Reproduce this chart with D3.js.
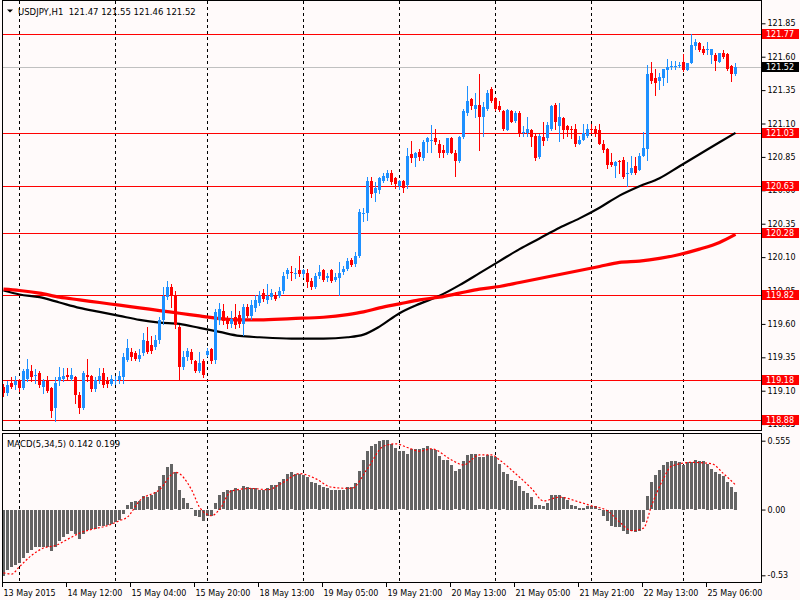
<!DOCTYPE html>
<html><head><meta charset="utf-8">
<script src="https://cdn.jsdelivr.net/npm/d3@7"></script>
<style>
body{margin:0;background:#fffafa}
svg{display:block}
text{font-family:"DejaVu Sans",Verdana,sans-serif}
</style>
</head><body><svg id="c" width="800" height="600"></svg>
<script>
// ---------- DATA ----------
const symbolTitle = "USDJPY,H1  121.47 121.55 121.46 121.52";
const macdTitle = "MACD(5,34,5) 0.142 0.199";

const openP = [119.13,119.08,119.16,119.14,119.18,119.12,119.19,119.25,119.21,119.23,119.13,119.18,119.12,118.97,119.17,119.19,119.22,119.19,119.20,119.07,
118.97,119.22,119.21,119.11,119.18,119.23,119.17,119.15,119.17,119.18,119.20,119.33,119.39,119.38,119.34,119.38,119.47,119.44,119.43,119.48,
119.63,119.80,119.88,119.82,119.58,119.28,119.35,119.39,119.32,119.25,119.32,119.37,119.41,119.33,119.63,119.70,119.63,119.60,119.65,119.67,
119.60,119.73,119.66,119.72,119.76,119.83,119.78,119.80,119.82,119.81,119.85,119.97,119.99,119.97,120.00,119.97,119.98,119.92,119.88,119.96,
120.00,119.94,120.00,119.93,119.94,119.99,120.01,120.08,120.05,120.11,120.42,120.43,120.67,120.58,120.60,120.67,120.69,120.73,120.69,120.63,
120.67,120.64,120.87,120.84,120.89,120.84,120.96,120.97,120.99,120.95,120.90,120.88,120.99,120.88,120.82,121.00,121.18,121.28,121.21,121.24,
121.15,121.21,121.36,121.29,121.23,121.19,121.05,121.19,121.12,121.18,121.03,121.03,121.05,121.01,120.85,121.00,120.99,121.06,121.24,121.08,
121.14,121.08,121.06,121.06,120.95,120.98,121.01,121.06,121.06,121.05,120.95,120.91,120.81,120.78,120.82,120.83,120.72,120.73,120.78,120.75,
120.86,120.91,121.48,121.44,121.42,121.44,121.50,121.52,121.53,121.53,121.56,121.50,121.55,121.68,121.70,121.66,121.65,121.61,121.61,121.56,
121.63,121.62,121.53,121.47];
const highP = [119.15,119.17,119.20,119.21,119.19,119.26,119.34,119.29,119.26,119.25,119.19,119.21,119.13,119.20,119.28,119.27,119.27,119.27,119.21,119.09,
119.25,119.34,119.22,119.20,119.27,119.27,119.20,119.22,119.21,119.25,119.38,119.49,119.42,119.40,119.41,119.53,119.58,119.51,119.52,119.65,
119.88,119.92,119.90,119.85,119.59,119.40,119.42,119.41,119.33,119.39,119.34,119.42,119.42,119.71,119.76,119.75,119.66,119.70,119.75,119.70,
119.75,119.75,119.78,119.82,119.85,119.86,119.90,119.86,119.84,119.88,119.99,120.02,120.03,120.02,120.11,120.01,120.01,119.94,119.98,120.04,
120.01,119.98,120.01,119.98,120.06,120.03,120.09,120.09,120.14,120.46,120.47,120.70,120.70,120.66,120.70,120.73,120.75,120.75,120.70,120.68,
120.68,120.92,120.97,120.89,120.91,120.98,121.00,121.09,121.06,120.98,120.94,120.99,121.00,120.90,121.01,121.21,121.38,121.29,121.33,121.47,
121.26,121.35,121.37,121.30,121.27,121.20,121.21,121.20,121.19,121.19,121.08,121.15,121.06,121.02,121.02,121.11,121.11,121.24,121.25,121.25,
121.15,121.09,121.08,121.10,121.01,121.10,121.10,121.10,121.08,121.10,120.98,120.92,120.88,120.82,120.83,120.85,120.81,120.86,120.85,120.88,
121.04,121.54,121.56,121.51,121.48,121.51,121.58,121.57,121.57,121.56,121.62,121.55,121.77,121.73,121.71,121.68,121.71,121.66,121.63,121.63,
121.65,121.63,121.54,121.55];
const lowP = [119.06,119.07,119.12,119.11,119.10,119.11,119.17,119.17,119.16,119.13,119.08,119.09,118.90,118.87,119.14,119.17,119.18,119.18,119.01,118.93,
118.96,119.17,119.10,119.10,119.16,119.13,119.13,119.14,119.15,119.16,119.16,119.32,119.33,119.33,119.32,119.37,119.38,119.38,119.41,119.46,
119.60,119.79,119.73,119.57,119.18,119.26,119.33,119.31,119.24,119.24,119.20,119.36,119.31,119.31,119.60,119.60,119.57,119.58,119.57,119.58,
119.52,119.65,119.64,119.70,119.74,119.77,119.76,119.79,119.78,119.80,119.83,119.94,119.93,119.94,119.96,119.95,119.88,119.86,119.87,119.94,
119.92,119.92,119.91,119.92,119.82,119.97,120.00,120.03,120.03,120.10,120.37,120.38,120.55,120.52,120.58,120.66,120.68,120.65,120.62,120.61,
120.59,120.62,120.81,120.78,120.83,120.83,120.89,120.89,120.95,120.85,120.85,120.87,120.88,120.71,120.81,120.99,121.16,121.21,121.15,120.90,
121.01,121.20,121.26,121.20,121.19,121.05,121.05,121.11,121.11,121.01,121.01,121.01,120.93,120.83,120.84,120.94,120.98,121.05,121.06,120.97,
120.99,121.01,120.99,120.93,120.95,120.98,121.00,121.03,121.01,120.95,120.89,120.77,120.78,120.70,120.73,120.69,120.63,120.72,120.72,120.75,
120.86,120.83,121.40,121.31,121.36,121.39,121.41,121.51,121.51,121.52,121.49,121.50,121.55,121.66,121.64,121.62,121.62,121.55,121.50,121.56,
121.59,121.50,121.42,121.46];
const closeP = [119.08,119.14,119.13,119.17,119.12,119.25,119.26,119.20,119.22,119.14,119.17,119.10,118.95,119.16,119.20,119.21,119.20,119.22,119.07,118.97,
119.23,119.20,119.11,119.18,119.21,119.14,119.15,119.19,119.18,119.21,119.35,119.42,119.35,119.34,119.37,119.48,119.39,119.40,119.48,119.63,
119.81,119.88,119.82,119.59,119.28,119.35,119.40,119.33,119.25,119.31,119.22,119.40,119.32,119.69,119.71,119.62,119.60,119.64,119.59,119.60,
119.73,119.66,119.74,119.78,119.82,119.79,119.81,119.83,119.79,119.85,119.96,120.00,119.98,119.98,119.97,120.00,119.91,119.88,119.96,119.99,
119.93,119.96,119.92,119.95,119.98,120.01,120.07,120.04,120.11,120.44,120.43,120.67,120.57,120.62,120.69,120.71,120.73,120.66,120.65,120.67,
120.62,120.86,120.84,120.88,120.85,120.96,120.99,120.98,120.96,120.88,120.88,120.99,120.88,120.82,121.00,121.19,121.27,121.23,121.24,121.15,
121.22,121.33,121.27,121.21,121.20,121.06,121.20,121.11,121.18,121.03,121.04,121.06,121.00,120.84,121.01,120.97,121.09,121.23,121.11,121.15,
121.05,121.05,121.05,120.95,120.98,121.03,121.06,121.05,121.03,120.95,120.90,120.79,120.79,120.81,120.81,120.70,120.73,120.77,120.73,120.86,
120.92,121.47,121.42,121.40,121.45,121.51,121.52,121.53,121.53,121.54,121.50,121.55,121.69,121.71,121.65,121.63,121.66,121.66,121.57,121.63,
121.60,121.51,121.47,121.52];

// moving averages, read at sampled bars
const maBlackBars = [0,4,9,14,19,24,29,34,39,44,49,54,59,64,72,80,86,90,94,99,104,109,114,119,124,129,134,139,144,149,154,159,164,169,174,179,183];
const maBlackVals = [119.85,119.82,119.80,119.76,119.72,119.69,119.66,119.63,119.61,119.60,119.57,119.54,119.51,119.50,119.49,119.49,119.50,119.52,119.58,119.68,119.75,119.81,119.89,119.98,120.07,120.16,120.24,120.32,120.39,120.47,120.56,120.63,120.69,120.78,120.87,120.96,121.03];
const maRedBars = [0,4,9,14,19,24,29,34,39,44,49,54,59,64,72,80,86,90,94,99,104,109,114,119,124,129,134,139,144,149,154,159,164,169,174,179,183];
const maRedVals = [119.86,119.85,119.83,119.80,119.78,119.76,119.74,119.72,119.70,119.68,119.66,119.64,119.63,119.63,119.64,119.65,119.67,119.69,119.72,119.75,119.78,119.80,119.83,119.86,119.88,119.91,119.94,119.97,120.00,120.03,120.06,120.07,120.09,120.12,120.16,120.21,120.27];

const macdHist = [-0.53,-0.48,-0.46,-0.44,-0.43,-0.39,-0.35,-0.32,-0.30,-0.30,-0.30,-0.30,-0.33,-0.30,-0.25,-0.22,-0.19,-0.17,-0.19,-0.23,
-0.19,-0.16,-0.15,-0.15,-0.13,-0.13,-0.12,-0.11,-0.10,-0.08,-0.03,0.035,0.06,0.07,0.07,0.11,0.10,0.12,0.14,0.19,
0.28,0.34,0.37,0.30,0.16,0.09,0.05,0.01,-0.05,-0.06,-0.09,-0.05,-0.05,0.05,0.12,0.14,0.16,0.16,0.17,0.16,
0.19,0.18,0.17,0.17,0.16,0.16,0.17,0.20,0.20,0.22,0.25,0.29,0.30,0.29,0.29,0.28,0.26,0.22,0.21,0.20,
0.18,0.17,0.16,0.16,0.16,0.16,0.18,0.18,0.21,0.31,0.40,0.47,0.51,0.53,0.55,0.56,0.56,0.53,0.50,0.47,
0.47,0.45,0.49,0.49,0.49,0.50,0.51,0.49,0.48,0.43,0.40,0.40,0.36,0.31,0.33,0.39,0.44,0.45,0.45,0.42,
0.42,0.44,0.43,0.42,0.37,0.30,0.29,0.24,0.23,0.19,0.15,0.13,0.10,0.035,0.035,0.027,0.054,0.12,0.12,0.12,
0.10,0.075,0.035,0.027,0.016,0.016,0.027,0.027,0.027,0.008,-0.046,-0.09,-0.13,-0.14,-0.14,-0.17,-0.19,-0.17,-0.18,-0.17,
-0.10,0.11,0.22,0.28,0.32,0.36,0.38,0.39,0.39,0.38,0.36,0.38,0.38,0.40,0.39,0.39,0.37,0.33,0.30,0.29,
0.27,0.22,0.18,0.142];
const signalBars = [0,2,4,7,10,13,16,19,22,26,29,31,34,39,43,47,49,51,52,54,57,62,66,70,74,78,82,87,91,95,98,101,104,107,112,115,119,122,124,128,132,135,139,144,147,151,154,157,160,162,165,167,172,177,180,183];
const signalVals = [-0.51,-0.52,-0.46,-0.37,-0.31,-0.29,-0.24,-0.19,-0.16,-0.13,-0.09,-0.06,0.07,0.16,0.30,0.16,0.02,-0.04,-0.05,0.00,0.15,0.17,0.16,0.22,0.29,0.25,0.18,0.17,0.33,0.51,0.53,0.50,0.47,0.49,0.40,0.36,0.44,0.44,0.40,0.29,0.17,0.07,0.10,0.06,0.03,-0.01,-0.10,-0.17,-0.15,0.03,0.25,0.35,0.38,0.37,0.29,0.199];

const levelPrices = [121.77,121.03,120.63,120.28,119.82,119.18,118.88];
const currentPrice = 121.52;
const priceTicks = [121.85,121.60,121.35,121.10,120.85,120.60,120.35,120.10,119.85,119.60,119.35,119.10,118.85];
const macdTicks = [0.555,0.00,-0.53];
const macdTickLabels = ["0.555","0.00","-0.53"];
const dateBars = [0,16,32,48,64,80,96,112,128,144,160,176];
const dateLabels = ["13 May 2015","14 May 12:00","15 May 04:00","15 May 20:00","18 May 13:00","19 May 05:00","19 May 21:00","20 May 13:00","21 May 05:00","21 May 21:00","22 May 13:00","25 May 06:00"];
const separatorBars = [4,28,51,75,99,123,147,170];

// ---------- LAYOUT ----------
const svg = d3.select('#c');
const W = 800, H = 600;
const left = 2.5, right = 761.5;
const mainTop = 0.5, mainBottom = 430.5;
const macdTop = 433.5, macdBottom = 582.5;
const BULL = '#1e90ff', BEAR = '#ff0000';

const x = d3.scaleLinear().domain([0, openP.length - 1]).range([3.5, 3.5 + 4 * (openP.length - 1)]);
const y = d3.scaleLinear().domain([118.88, 121.77]).range([420.1, 34]);
const ym = d3.scaleLinear().domain([-0.53, 0.555]).range([575.3, 440.7]);

svg.append('rect').attr('width', W).attr('height', H).attr('fill', '#fffafa');

const defs = svg.append('defs');
defs.append('clipPath').attr('id', 'clipMain').append('rect')
  .attr('x', 3).attr('y', 1).attr('width', right - 3.5).attr('height', mainBottom - 1.5);
defs.append('clipPath').attr('id', 'clipMacd').append('rect')
  .attr('x', 3).attr('y', macdTop + 0.5).attr('width', right - 3.5).attr('height', macdBottom - macdTop - 1);

// separators (dashed day lines)
const sep = svg.append('g').attr('shape-rendering', 'crispEdges');
separatorBars.forEach(b => {
  const xx = Math.floor(x(b)) + 0.5;
  [[mainTop, mainBottom], [macdTop, macdBottom]].forEach(([a, bb]) => {
    sep.append('line').attr('x1', xx).attr('x2', xx).attr('y1', a).attr('y2', bb)
      .attr('stroke', '#000').attr('stroke-width', 1).attr('stroke-dasharray', '3,3');
  });
});

// main panel content
const gMain = svg.append('g').attr('clip-path', 'url(#clipMain)');

// current price line
gMain.append('line').attr('x1', left).attr('x2', right)
  .attr('y1', Math.round(y(currentPrice)) + 0.5).attr('y2', Math.round(y(currentPrice)) + 0.5)
  .attr('stroke', '#c0c0c0').attr('shape-rendering', 'crispEdges');

// horizontal level lines
gMain.selectAll('line.lvl').data(levelPrices).join('line').attr('class', 'lvl')
  .attr('x1', left).attr('x2', right)
  .attr('y1', d => Math.round(y(d)) + 0.5).attr('y2', d => Math.round(y(d)) + 0.5)
  .attr('stroke', '#ff0000').attr('shape-rendering', 'crispEdges');

// moving averages
const maLine = d3.line().x(d => x(d[0])).y(d => y(d[1])).curve(d3.curveMonotoneX);
gMain.append('path').datum(maBlackBars.map((b, k) => [b, maBlackVals[k]]))
  .attr('d', maLine).attr('fill', 'none').attr('stroke', '#000').attr('stroke-width', 2.2);
gMain.append('path').datum(maRedBars.map((b, k) => [b, maRedVals[k]]))
  .attr('d', maLine).attr('fill', 'none').attr('stroke', '#ff0000').attr('stroke-width', 3.2);

// candles
const candles = openP.map((o, i) => ({ i, o, h: highP[i], l: lowP[i], c: closeP[i] }));
const gc = gMain.append('g').attr('shape-rendering', 'crispEdges');
gc.selectAll('line.wick').data(candles).join('line').attr('class', 'wick')
  .attr('x1', d => Math.floor(x(d.i)) + 0.5).attr('x2', d => Math.floor(x(d.i)) + 0.5)
  .attr('y1', d => Math.round(y(d.h))).attr('y2', d => Math.round(y(d.l)) + 1)
  .attr('stroke', d => d.c >= d.o ? BULL : BEAR);
gc.selectAll('rect.body').data(candles).join('rect').attr('class', 'body')
  .attr('x', d => Math.floor(x(d.i)) - 1).attr('width', 3)
  .attr('y', d => Math.round(y(Math.max(d.o, d.c))))
  .attr('height', d => Math.max(1, Math.round(y(Math.min(d.o, d.c))) - Math.round(y(Math.max(d.o, d.c)))))
  .attr('fill', d => d.c >= d.o ? BULL : BEAR);

// MACD panel content
const gM = svg.append('g').attr('clip-path', 'url(#clipMacd)');
gM.append('g').attr('shape-rendering', 'crispEdges').selectAll('rect').data(macdHist).join('rect')
  .attr('x', (d, i) => Math.floor(x(i)) - 1).attr('width', 3)
  .attr('y', d => Math.round(Math.min(ym(d), ym(0))))
  .attr('height', d => Math.max(1, Math.round(Math.abs(ym(d) - ym(0)))))
  .attr('fill', '#646464');
gM.append('path').datum(signalBars.map((b, k) => [b, signalVals[k]]))
  .attr('d', d3.line().x(d => x(d[0])).y(d => ym(d[1])).curve(d3.curveMonotoneX))
  .attr('fill', 'none').attr('stroke', '#ff0000').attr('stroke-width', 1.2).attr('stroke-dasharray', '2,2');

// frames
const fr = svg.append('g').attr('fill', 'none').attr('stroke', '#000').attr('shape-rendering', 'crispEdges');
fr.append('rect').attr('x', left).attr('y', mainTop).attr('width', right - left).attr('height', mainBottom - mainTop);
fr.append('rect').attr('x', left).attr('y', macdTop).attr('width', right - left).attr('height', macdBottom - macdTop);

// price axis
const axP = svg.append('g').attr('transform', `translate(${right},0)`)
  .call(d3.axisRight(y).tickValues(priceTicks).tickFormat(d3.format('.2f')).tickSize(4).tickPadding(2));
axP.select('.domain').remove();
axP.selectAll('text').attr('font-size', 8).attr('fill', '#000').attr('font-family', '"DejaVu Sans",sans-serif');
axP.selectAll('line').attr('stroke', '#000');

// MACD axis
const axM = svg.append('g').attr('transform', `translate(${right},0)`)
  .call(d3.axisRight(ym).tickValues(macdTicks).tickFormat((d, k) => macdTickLabels[k]).tickSize(4).tickPadding(2));
axM.select('.domain').remove();
axM.selectAll('text').attr('font-size', 8).attr('fill', '#000').attr('font-family', '"DejaVu Sans",sans-serif');
axM.selectAll('line').attr('stroke', '#000');

// level label boxes
const boxes = svg.append('g');
levelPrices.forEach(p => {
  const yy = Math.round(y(p));
  boxes.append('rect').attr('x', 762).attr('y', yy - 5).attr('width', 37).attr('height', 10).attr('fill', '#ff0000');
  boxes.append('text').attr('x', 766).attr('y', yy).attr('dy', '0.34em').attr('font-size', 8).attr('fill', '#fff').text(p.toFixed(2));
});
{
  const yy = Math.round(y(currentPrice));
  boxes.append('rect').attr('x', 762).attr('y', yy - 5).attr('width', 37).attr('height', 10).attr('fill', '#000');
  boxes.append('text').attr('x', 766).attr('y', yy).attr('dy', '0.34em').attr('font-size', 8).attr('fill', '#fff').text(currentPrice.toFixed(2));
}

// time axis
const axT = svg.append('g').attr('shape-rendering', 'crispEdges');
dateBars.forEach((b, k) => {
  const xx = Math.floor(x(b)) - 0.5;
  axT.append('line').attr('x1', xx).attr('x2', xx).attr('y1', macdBottom).attr('y2', macdBottom + 4).attr('stroke', '#000');
  axT.append('text').attr('x', xx + 1).attr('y', 596).attr('font-size', 8).attr('fill', '#000').text(dateLabels[k]);
});

// headers
svg.append('path').attr('d', 'M7,9.5 L13,9.5 L10,12.5 Z').attr('fill', '#000');
svg.append('text').attr('x', 18).attr('y', 14.5).attr('font-size', 8.5).attr('fill', '#000').attr('xml:space', 'preserve').style('white-space', 'pre').text(symbolTitle);
svg.append('text').attr('x', 7).attr('y', 446.5).attr('font-size', 8.5).attr('fill', '#000').text(macdTitle);
</script>
</body></html>
